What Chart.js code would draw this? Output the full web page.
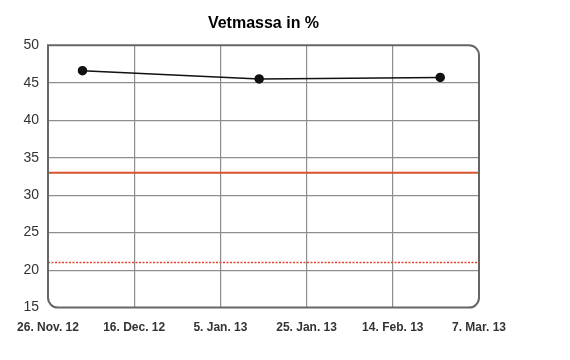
<!DOCTYPE html>
<html>
<head>
<meta charset="utf-8">
<script src="https://cdn.jsdelivr.net/npm/chart.js@4"></script>
<style>
  html, body { margin:0; padding:0; background:#fff; }
  #wrap { width:570px; height:360px; }
</style>
</head>
<body>
<div id="wrap"><canvas id="chart"></canvas></div>
<script>
// ===============================
// DATA
// ===============================
const startDate = "2012-11-26";
const measureDates = ["2012-12-04", "2013-01-14", "2013-02-25"];
const fatValues = [46.6, 45.5, 45.7];
const upperLimit = 33;
const lowerLimit = 21;
const xTickLabels = ["26. Nov. 12", "16. Dec. 12", "5. Jan. 13", "25. Jan. 13", "14. Feb. 13", "7. Mar. 13"];
const xTickStep = 20;   // days between ticks
const xSpan = 100;      // days on the axis

function dayOffset(s){
  return (Date.parse(s) - Date.parse(startDate)) / 86400000;
}

const linePoints = measureDates.map((d, i) => ({ x: dayOffset(d), y: fatValues[i] }));

// grid lines on the edges are covered by the frame
function innerGrid(ctx){
  const n = ctx.scale.ticks.length;
  return (ctx.index === 0 || ctx.index === n - 1) ? "rgba(0,0,0,0)" : "#8e8e8e";
}

// ===============================
// FRAME PLUGIN (rounded corners)
// ===============================
const framePlugin = {
  id: "frame",
  afterDraw(chart){
    const a = chart.chartArea;
    const ctx = chart.ctx;
    const r = 10;
    ctx.save();
    ctx.strokeStyle = "#666";
    ctx.lineWidth = 2;
    ctx.beginPath();
    ctx.moveTo(a.left, a.top);
    ctx.lineTo(a.right - r, a.top);
    ctx.arcTo(a.right, a.top, a.right, a.top + r, r);
    ctx.lineTo(a.right, a.bottom - r);
    ctx.arcTo(a.right, a.bottom, a.right - r, a.bottom, r);
    ctx.lineTo(a.left + r, a.bottom);
    ctx.arcTo(a.left, a.bottom, a.left, a.bottom - r, r);
    ctx.closePath();
    ctx.stroke();
    ctx.restore();
  }
};

// ===============================
// CHART
// ===============================
new Chart(document.getElementById("chart"), {
  type: "scatter",
  data: {
    datasets: [
      {
        data: linePoints,
        showLine: true,
        borderColor: "#111",
        backgroundColor: "#111",
        borderWidth: 1.5,
        pointRadius: 4,
        pointHoverRadius: 4,
        order: 0
      },
      {
        data: [{ x: 0, y: upperLimit }, { x: xSpan, y: upperLimit }],
        showLine: true,
        borderColor: "#d9532c",
        borderWidth: 2,
        pointRadius: 0,
        order: 1
      },
      {
        data: [{ x: 0, y: lowerLimit }, { x: xSpan, y: lowerLimit }],
        showLine: true,
        borderColor: "#e2432b",
        borderWidth: 1.5,
        borderDash: [2, 1.5],
        pointRadius: 0,
        order: 2
      }
    ]
  },
  options: {
    responsive: true,
    maintainAspectRatio: false,
    animation: false,
    layout: { padding: { left: 23, right: 91, top: 0, bottom: 12 } },
    plugins: {
      legend: { display: false },
      tooltip: { enabled: false },
      title: {
        display: true,
        fullSize: false,
        text: "Vetmassa in %",
        color: "#000",
        font: { family: "Liberation Sans", size: 16, weight: "bold", lineHeight: 1.2 },
        padding: { top: 14, bottom: 12 }
      }
    },
    scales: {
      x: {
        type: "linear",
        min: 0,
        max: xSpan,
        border: { display: false },
        grid: { color: innerGrid, lineWidth: 1.2, drawTicks: false },
        ticks: {
          stepSize: xTickStep,
          padding: 13,
          color: "#333",
          maxRotation: 0,
          font: { family: "Liberation Sans", size: 12, weight: "bold" },
          callback: (v) => xTickLabels[Math.round(v / xTickStep)]
        }
      },
      y: {
        min: 15,
        max: 50,
        border: { display: false },
        grid: { color: innerGrid, lineWidth: 1.2, drawTicks: false },
        afterFit: (scale) => { scale.width = 25; },
        ticks: {
          stepSize: 5,
          padding: 9,
          color: "#333",
          font: { family: "Liberation Sans", size: 14 }
        }
      }
    }
  },
  plugins: [framePlugin]
});
</script>
</body>
</html>
